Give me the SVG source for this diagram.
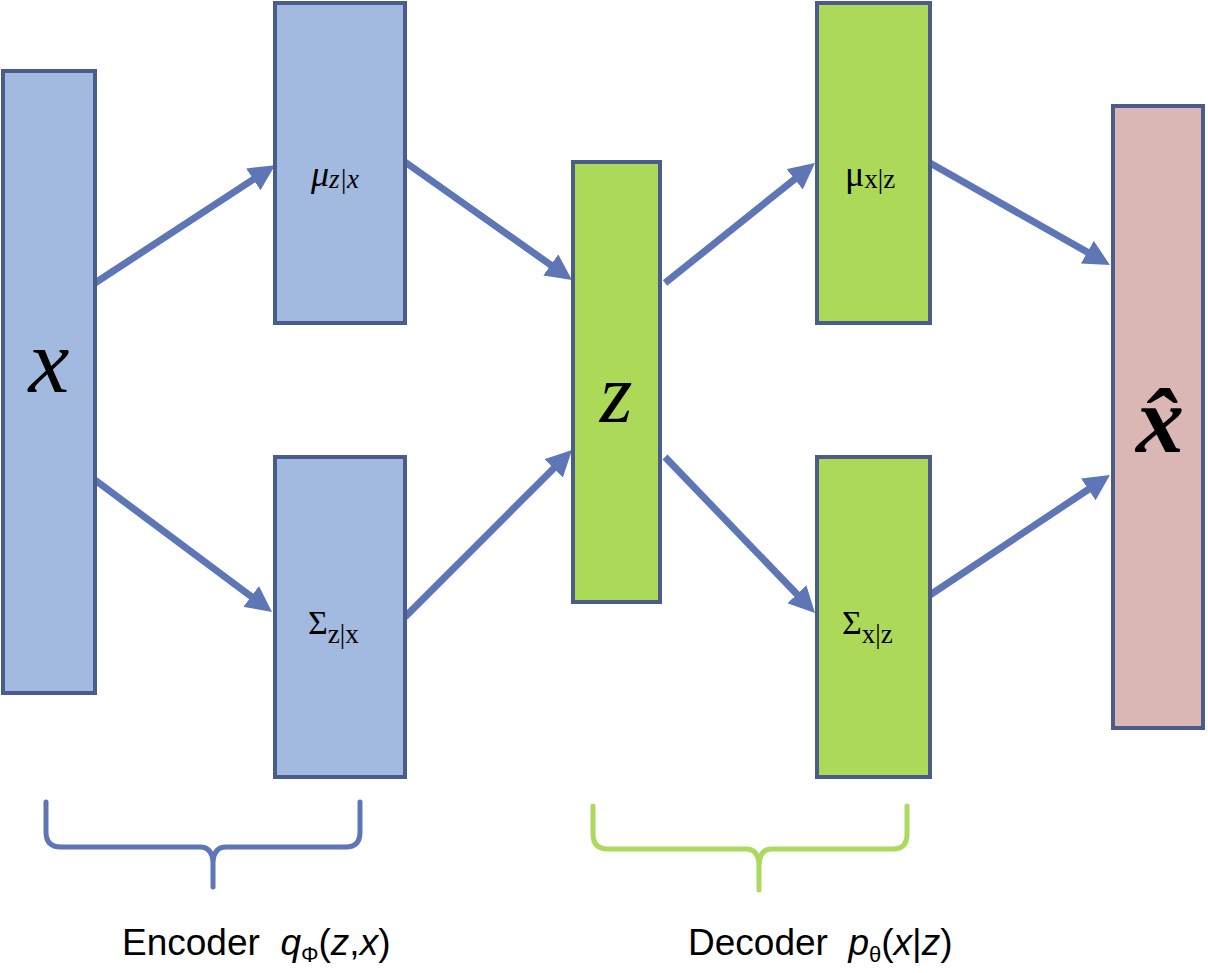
<svg xmlns="http://www.w3.org/2000/svg" width="1208" height="973" viewBox="0 0 1208 973">
<style>
.box{stroke:#4a5b8c;stroke-width:4}
.blue{fill:#a2badf}
.green{fill:#acd957}
.pink{fill:#dab6b5}
.arr{stroke:#5e75b6;stroke-width:7;fill:none;marker-end:url(#ah)}
.brace{fill:none;stroke-width:5;stroke-linecap:round;stroke-linejoin:round}
.lbl{font-family:"Liberation Serif","Times New Roman",serif;fill:#000}
.cap{font-family:"Liberation Sans",Arial,sans-serif;font-size:37px;fill:#000}
</style>
<defs>
<marker id="ah" markerUnits="userSpaceOnUse" viewBox="0 0 26 26" refX="8" refY="13" markerWidth="26" markerHeight="26" orient="auto">
<path d="M0,0 L26,13 L0,26 z" fill="#5e75b6"/>
</marker>
</defs>
<rect width="1208" height="973" fill="#fff"/>
<g id="connectors">
<line class="arr" x1="95" y1="283" x2="260" y2="175"/>
<line class="arr" x1="95" y1="480" x2="257.6" y2="601.2"/>
<line class="arr" x1="405" y1="162" x2="557.3" y2="269.6"/>
<line class="arr" x1="405" y1="617" x2="559.3" y2="462.7"/>
<line class="arr" x1="665" y1="283" x2="800.9" y2="174.2"/>
<line class="arr" x1="665" y1="457" x2="802.5" y2="600"/>
<line class="arr" x1="930" y1="163" x2="1094.3" y2="256.1"/>
<line class="arr" x1="930" y1="595" x2="1095" y2="485"/>
</g>
<g id="x">
<rect class="box blue" x="3" y="71" width="92" height="622"/>
<text class="lbl" x="49" y="392" font-size="92" font-style="italic" text-anchor="middle">x</text>
</g>
<g id="mu_zx">
<rect class="box blue" x="275" y="3" width="130" height="320"/>
<text class="lbl" x="311" y="186" font-size="36" font-style="italic">μ<tspan font-size="27" dy="2">z|x</tspan></text>
</g>
<g id="sigma_zx">
<rect class="box blue" x="275" y="457" width="130" height="320"/>
<text class="lbl" x="308" y="634" font-size="34">Σ<tspan font-size="27" dy="9">z|x</tspan></text>
</g>
<g id="z">
<rect class="box green" x="573" y="162" width="87" height="440"/>
<text class="lbl" x="616" y="422" font-size="84" font-style="italic" text-anchor="middle">z</text>
</g>
<g id="mu_xz">
<rect class="box green" x="817" y="3" width="113" height="320"/>
<text class="lbl" x="845" y="186" font-size="36">μ<tspan font-size="27" dy="2">x|z</tspan></text>
</g>
<g id="sigma_xz">
<rect class="box green" x="817" y="457" width="113" height="320"/>
<text class="lbl" x="842" y="634" font-size="34">Σ<tspan font-size="27" dy="9">x|z</tspan></text>
</g>
<g id="xhat">
<rect class="box pink" x="1113" y="106" width="90" height="622"/>
<text class="lbl" x="1160" y="452" font-size="96" font-style="italic" font-weight="bold" text-anchor="middle">x̂</text>
</g>
<g id="encoder">
<path class="brace" stroke="#5e75b6" d="M46,802 L46,832 Q46,847 61,847 L200,847 Q212,847 213,862 L213,887 M213,862 Q214,847 226,847 L346,847 Q360,847 360,832 L360,802"/>
<text class="cap" x="122" y="955" xml:space="preserve">Encoder  <tspan font-style="italic">q</tspan><tspan font-size="22" dy="7">Φ</tspan><tspan dy="-7">(</tspan><tspan font-style="italic">z</tspan>,<tspan font-style="italic">x</tspan>)</text>
</g>
<g id="decoder">
<path class="brace" stroke="#acda5f" d="M593,806 L593,834 Q593,849 608,849 L746,849 Q758,849 759,864 L759,890 M759,864 Q760,849 772,849 L893,849 Q907,849 907,834 L907,806"/>
<text class="cap" x="688" y="955" xml:space="preserve">Decoder  <tspan font-style="italic">p</tspan><tspan font-size="22" dy="7">θ</tspan><tspan dy="-7">(</tspan><tspan font-style="italic">x</tspan>|<tspan font-style="italic">z</tspan>)</text>
</g>
</svg>
